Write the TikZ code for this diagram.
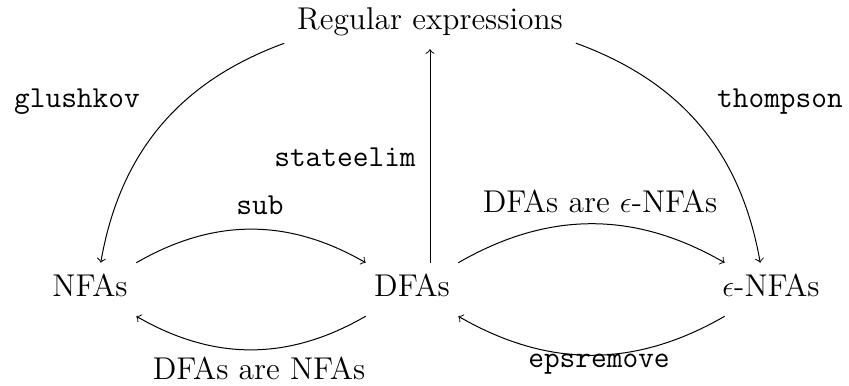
\documentclass[tikz,border=0pt]{standalone}
\begin{document}
\begin{tikzpicture}[x=0.4pt,y=-0.4pt,
  obj/.style={anchor=base,inner sep=5pt,text height=8.5pt,text depth=2.5pt,font=\fontsize{12.6}{15}\selectfont},
  lbl/.style={anchor=base,inner sep=0pt,font=\fontsize{12.6}{15}\selectfont},
  tlbl/.style={anchor=base,inner sep=0pt,font=\fontsize{12.2}{14}\selectfont\ttfamily},
  arr/.style={->,line width=0.4pt}]
\useasboundingbox (0,0) rectangle (849,386);
\node[obj] (re) at (430,30) {Regular expressions};
\node[obj] (nfa) at (90,297) {NFAs};
\node[obj] (dfa) at (412,297) {DFAs};
\node[obj] (enfa) at (771,297) {$\epsilon$-NFAs};
\node[tlbl] (lsub) at (260,215) {sub};
\node[lbl] (ldn) at (259,380) {DFAs are NFAs};
\node[lbl] (lde) at (600,213) {DFAs are $\epsilon$-NFAs};
\node[tlbl] (leps) at (599,368) {epsremove};
\node[tlbl] (lgl) at (77,108) {glushkov};
\node[tlbl] (lth) at (780,108) {thompson};
\node[tlbl] (lst) at (345,167) {stateelim};
\draw[arr] (nfa) to[bend left=30] (dfa);
\draw[arr] (dfa) to[bend left=30] (nfa);
\draw[arr] (dfa) to[bend left=30] (enfa);
\draw[arr] (enfa) to[bend left=30] (dfa);
\draw[arr] (re) to[bend right=30] (nfa);
\draw[arr] (re) to[bend left=30] (enfa);
\draw[arr] (dfa.north -| re.south) -- (re.south);
\end{tikzpicture}
\end{document}
